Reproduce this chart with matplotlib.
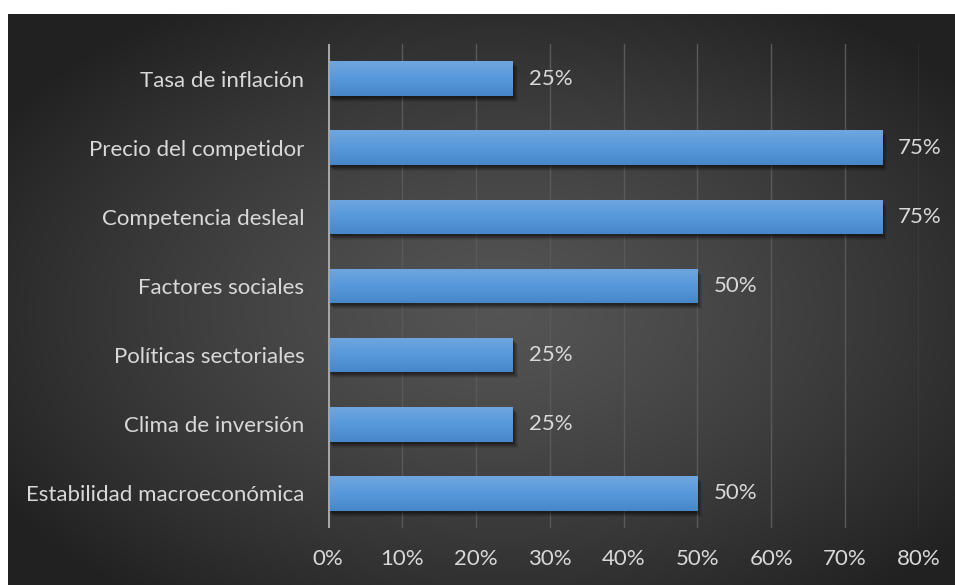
import matplotlib
matplotlib.use('Agg')
import matplotlib.pyplot as plt
import matplotlib.transforms as mtransforms
import numpy as np

plt.rcParams['font.family'] = ['Lato', 'DejaVu Sans']

# bottom to top, as drawn on the y axis
categories = ['Estabilidad macroeconómica', 'Clima de inversión', 'Políticas sectoriales',
              'Factores sociales', 'Competencia desleal', 'Precio del competidor',
              'Tasa de inflación']
values = [50, 25, 25, 50, 75, 75, 25]
xticks = [0, 10, 20, 30, 40, 50, 60, 70, 80]

W, H = 955, 585
FS = 16
fig = plt.figure(figsize=(W / 100, H / 100), dpi=100)
fig.patch.set_facecolor('white')

# dark radial gradient panel
bg = fig.add_axes([8 / W, 0, (W - 8) / W, (H - 14) / H])
bg.set_axis_off()
yy, xx = np.mgrid[0:H - 14, 0:W - 8]
cx, cy = 0.52 * (W - 8), 0.52 * (H - 14)
r = np.sqrt(((xx - cx) / (W * 0.62)) ** 2 + ((yy - cy) / (H * 0.62)) ** 2)
r = np.clip(r, 0, 1)
shade = 0.33 - 0.20 * r ** 1.3
bg.imshow(np.dstack([shade, shade, shade]), aspect='auto', extent=[0, 1, 0, 1])
bg.set_xlim(0, 1)
bg.set_ylim(0, 1)

ax = fig.add_axes([328 / W, (H - 528) / H, (919 - 328) / W, (528 - 44) / H])
ax.patch.set_alpha(0)
y = np.arange(len(categories))

for gx in xticks[1:]:
    ax.axvline(gx, color='#595959', lw=1.0, zorder=0)
ax.axvline(0, color='#a6a6a6', lw=2.2, zorder=5)

# soft drop shadow under each bar
for dx, dy, a in [(5, -6, 0.08), (4, -5, 0.10), (3, -4, 0.13), (2, -3, 0.16), (1, -2, 0.18)]:
    off = mtransforms.offset_copy(ax.transData, fig=fig, x=dx, y=dy, units='dots')
    ax.barh(y, values, height=0.5, color='black', alpha=a, transform=off, zorder=1, lw=0)

bars = ax.barh(y, values, height=0.5, color='none', lw=0, zorder=2)
grad = np.linspace(0, 1, 64).reshape(-1, 1, 1)
top = np.array([0.44, 0.65, 0.87])
mid = np.array([0.34, 0.60, 0.86])
bot = np.array([0.28, 0.53, 0.79])
cols = np.where(grad < 0.5,
                top + (mid - top) * (grad / 0.5),
                mid + (bot - mid) * ((grad - 0.5) / 0.5))
for b, v in zip(bars, values):
    y0 = b.get_y()
    im = ax.imshow(cols, extent=[0, v, y0, y0 + b.get_height()], origin='upper',
                   aspect='auto', zorder=2, interpolation='bilinear')
    im.set_clip_path(b)
    lab_off = mtransforms.offset_copy(ax.transData, fig=fig, x=16, y=0, units='dots')
    ax.text(v, y0 + b.get_height() / 2, '%d%%' % v, transform=lab_off,
            ha='left', va='center', color='#d9d9d9', fontsize=FS)
ax.set_xlim(0, 80)
ax.set_ylim(-0.5, len(categories) - 0.5)

ax.set_yticks(y)
ax.set_yticklabels(categories)
ax.set_xticks(xticks)
ax.set_xticklabels(['%d%%' % t for t in xticks])
ax.tick_params(axis='y', length=0, pad=17, labelsize=FS, labelcolor='#d9d9d9')
ax.tick_params(axis='x', length=0, pad=15, labelsize=FS, labelcolor='#d9d9d9')
for s in ax.spines.values():
    s.set_visible(False)

fig.savefig('out.png', dpi=100, facecolor=fig.get_facecolor())
